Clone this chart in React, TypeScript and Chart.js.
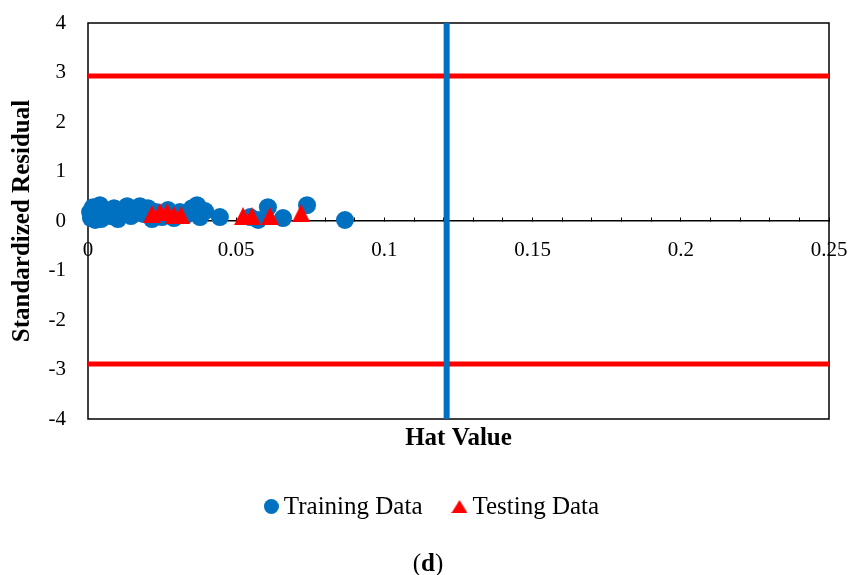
import React, { useEffect, useRef } from "react";
import { Chart, registerables } from "chart.js";

Chart.register(...registerables);

// Leverage (hat value) and standardized residual of each observation
const trainingHat = [
  0.0007, 0.001, 0.0017, 0.0024, 0.003, 0.004, 0.0044, 0.0057, 0.0074, 0.0088,
  0.0101, 0.0115, 0.0132, 0.0145, 0.0159, 0.0175, 0.0189, 0.0202, 0.0216, 0.0229,
  0.025, 0.027, 0.029, 0.031, 0.033, 0.0351, 0.0368, 0.0378, 0.0395, 0.0445,
  0.0547, 0.0574, 0.0607, 0.0658, 0.0739, 0.0867,
];
const trainingResidual = [
  0.18, 0.06, 0.28, 0.02, 0.14, 0.32, 0.04, 0.18, 0.1, 0.26,
  0.04, 0.16, 0.3, 0.1, 0.2, 0.3, 0.14, 0.26, 0.04, 0.18,
  0.08, 0.22, 0.06, 0.18, 0.12, 0.26, 0.32, 0.08, 0.2, 0.08,
  0.08, 0.02, 0.28, 0.06, 0.32, 0.02,
];
const testingHat = [0.0216, 0.0243, 0.0267, 0.029, 0.0314, 0.0523, 0.0553, 0.0614, 0.0719];
const testingResidual = [0.14, 0.18, 0.18, 0.12, 0.12, 0.1, 0.1, 0.1, 0.16];

// Williams plot limits
const hatCritical = 0.121;
const residualUpper = 2.93;
const residualLower = -2.89;

const hatRange = [0, 0.25];
const residualRange = [-4, 4];

const seriesNames = ["Training Data", "Testing Data"];
const xTitle = "Hat Value";
const yTitle = "Standardized Residual";
const captionLetter = "d";

const SERIF = "'Liberation Serif', 'Times New Roman', Times, serif";
const BLUE = "#0070C0";
const RED = "#FF0000";

function makeTriangle(w: number, h: number, color: string) {
  const c = document.createElement("canvas");
  c.width = w;
  c.height = h;
  const g = c.getContext("2d")!;
  g.fillStyle = color;
  g.beginPath();
  g.moveTo(w / 2, 0);
  g.lineTo(w, h);
  g.lineTo(0, h);
  g.closePath();
  g.fill();
  return c;
}

function makeCircle(d: number, color: string) {
  const c = document.createElement("canvas");
  c.width = d;
  c.height = d;
  const g = c.getContext("2d")!;
  g.fillStyle = color;
  g.beginPath();
  g.arc(d / 2, d / 2, d / 2, 0, Math.PI * 2);
  g.fill();
  return c;
}

// Box around the plotting area
const framePlugin = {
  id: "plotFrame",
  beforeDatasetsDraw(chart: any) {
    const { ctx, chartArea: a } = chart;
    ctx.save();
    ctx.strokeStyle = "#000";
    ctx.lineWidth = 1.5;
    ctx.strokeRect(a.left, a.top, a.right - a.left, a.bottom - a.top);
    ctx.restore();
  },
};

// Legend row and panel caption below the plot
const legendCaptionPlugin = {
  id: "legendCaption",
  afterDraw(chart: any) {
    const ctx = chart.ctx as CanvasRenderingContext2D;
    const items = seriesNames
      .map((name) => chart.data.datasets.find((d: any) => d.label === name))
      .filter((d: any) => d && d.legendMarker)
      .map((d: any) => ({ label: d.label as string, marker: d.legendMarker as HTMLCanvasElement }));
    ctx.save();
    ctx.font = `25px ${SERIF}`;
    ctx.fillStyle = "#000";
    ctx.textBaseline = "alphabetic";
    const markerGap = 5;
    const itemGap = 29;
    const widths = items.map((it: any) => it.marker.width + markerGap + ctx.measureText(it.label).width);
    const total = widths.reduce((s: number, w: number) => s + w, 0) + itemGap * (items.length - 1);
    let x = 431.5 - total / 2;
    const baseline = 513.5;
    const markerY = 506.5;
    items.forEach((it: any, i: number) => {
      ctx.drawImage(it.marker, x, markerY - it.marker.height / 2);
      ctx.fillText(it.label, x + it.marker.width + markerGap, baseline);
      x += widths[i] + itemGap;
    });

    // "(d)" with the letter in bold
    const regular = `25px ${SERIF}`;
    const bold = `bold 25px ${SERIF}`;
    ctx.font = regular;
    const wo = ctx.measureText("(").width;
    const wc = ctx.measureText(")").width;
    ctx.font = bold;
    const wd = ctx.measureText(captionLetter).width;
    let cx = 428 - (wo + wd + wc) / 2;
    const cy = 571;
    ctx.font = regular;
    ctx.fillText("(", cx, cy);
    cx += wo;
    ctx.font = bold;
    ctx.fillText(captionLetter, cx, cy);
    cx += wd;
    ctx.font = regular;
    ctx.fillText(")", cx, cy);
    ctx.restore();
  },
};

export default function App() {
  const canvasRef = useRef<HTMLCanvasElement | null>(null);

  useEffect(() => {
    const canvas = canvasRef.current;
    if (!canvas) return;

    Chart.defaults.font.family = SERIF;
    Chart.defaults.color = "#000";

    const triPoint = makeTriangle(18, 18, RED);
    const triLegend = makeTriangle(16, 13, RED);
    const dotLegend = makeCircle(15, BLUE);

    const chart = new Chart(canvas, {
      type: "scatter",
      data: {
        datasets: [
          {
            label: seriesNames[1],
            data: testingHat.map((x, i) => ({ x, y: testingResidual[i] })),
            pointStyle: triPoint as any,
            pointRadius: 9,
            backgroundColor: RED,
            borderWidth: 0,
            clip: false as any,
            order: 0,
            legendMarker: triLegend,
          } as any,
          {
            label: seriesNames[0],
            data: trainingHat.map((x, i) => ({ x, y: trainingResidual[i] })),
            pointStyle: "circle",
            pointRadius: 9,
            backgroundColor: BLUE,
            borderWidth: 0,
            clip: false as any,
            order: 1,
            legendMarker: dotLegend,
          } as any,
          {
            label: "Critical hat value",
            data: [
              { x: hatCritical, y: residualRange[0] },
              { x: hatCritical, y: residualRange[1] },
            ],
            showLine: true,
            borderColor: BLUE,
            borderWidth: 6,
            pointRadius: 0,
            order: 2,
          },
          {
            label: "Upper residual limit",
            data: [
              { x: hatRange[0], y: residualUpper },
              { x: hatRange[1], y: residualUpper },
            ],
            showLine: true,
            borderColor: RED,
            borderWidth: 5,
            pointRadius: 0,
            order: 3,
          },
          {
            label: "Lower residual limit",
            data: [
              { x: hatRange[0], y: residualLower },
              { x: hatRange[1], y: residualLower },
            ],
            showLine: true,
            borderColor: RED,
            borderWidth: 5,
            pointRadius: 0,
            order: 3,
          },
        ],
      },
      options: {
        animation: false,
        responsive: false,
        devicePixelRatio: 1,
        events: [],
        layout: { padding: { top: 23, right: 23, left: 8, bottom: 117 } },
        plugins: {
          legend: { display: false },
          tooltip: { enabled: false },
        },
        scales: {
          x: {
            type: "linear",
            position: { y: 0 } as any,
            min: hatRange[0],
            max: hatRange[1],
            ticks: {
              stepSize: 0.01,
              autoSkip: false,
              maxRotation: 0,
              padding: 21,
              color: "#000",
              font: { size: 21, family: SERIF },
              callback: (value: any) => {
                const k = Math.round(Number(value) * 100);
                return k % 5 === 0 ? String(k / 100) : "";
              },
            },
            grid: {
              display: true,
              drawOnChartArea: false,
              drawTicks: true,
              tickLength: -4,
              tickColor: "#000",
              lineWidth: 1,
            },
            border: { display: true, color: "#000", width: 1.5 },
            afterFit: (scale: any) => {
              scale.paddingLeft = 0;
              scale.paddingRight = 0;
            },
          },
          x2: {
            type: "linear",
            position: "bottom",
            min: hatRange[0],
            max: hatRange[1],
            ticks: { display: false },
            grid: { display: false, drawTicks: false },
            border: { display: false },
            title: {
              display: true,
              text: xTitle,
              color: "#000",
              font: { size: 25, weight: "bold", family: SERIF },
              padding: { top: 0, bottom: 4.3 },
            },
            afterFit: (scale: any) => {
              scale.height = 39;
              scale.paddingLeft = 0;
              scale.paddingRight = 0;
            },
          },
          y: {
            type: "linear",
            position: "left",
            min: residualRange[0],
            max: residualRange[1],
            ticks: {
              stepSize: 1,
              padding: 22,
              color: "#000",
              font: { size: 21, family: SERIF },
            },
            grid: { display: false, drawTicks: false },
            border: { display: false },
            title: {
              display: true,
              text: yTitle,
              color: "#000",
              font: { size: 25, weight: "bold", family: SERIF },
              padding: { top: 0, bottom: 0 },
            },
            afterFit: (scale: any) => {
              scale.width = 80;
              scale.paddingTop = 0;
              scale.paddingBottom = 0;
            },
          },
        },
      },
      plugins: [framePlugin, legendCaptionPlugin],
    });

    return () => chart.destroy();
  }, []);

  return (
    <div style={{ position: "fixed", left: 0, top: 0, width: 852, height: 575, background: "#fff" }}>
      <canvas ref={canvasRef} width={852} height={575} style={{ display: "block" }} />
    </div>
  );
}
